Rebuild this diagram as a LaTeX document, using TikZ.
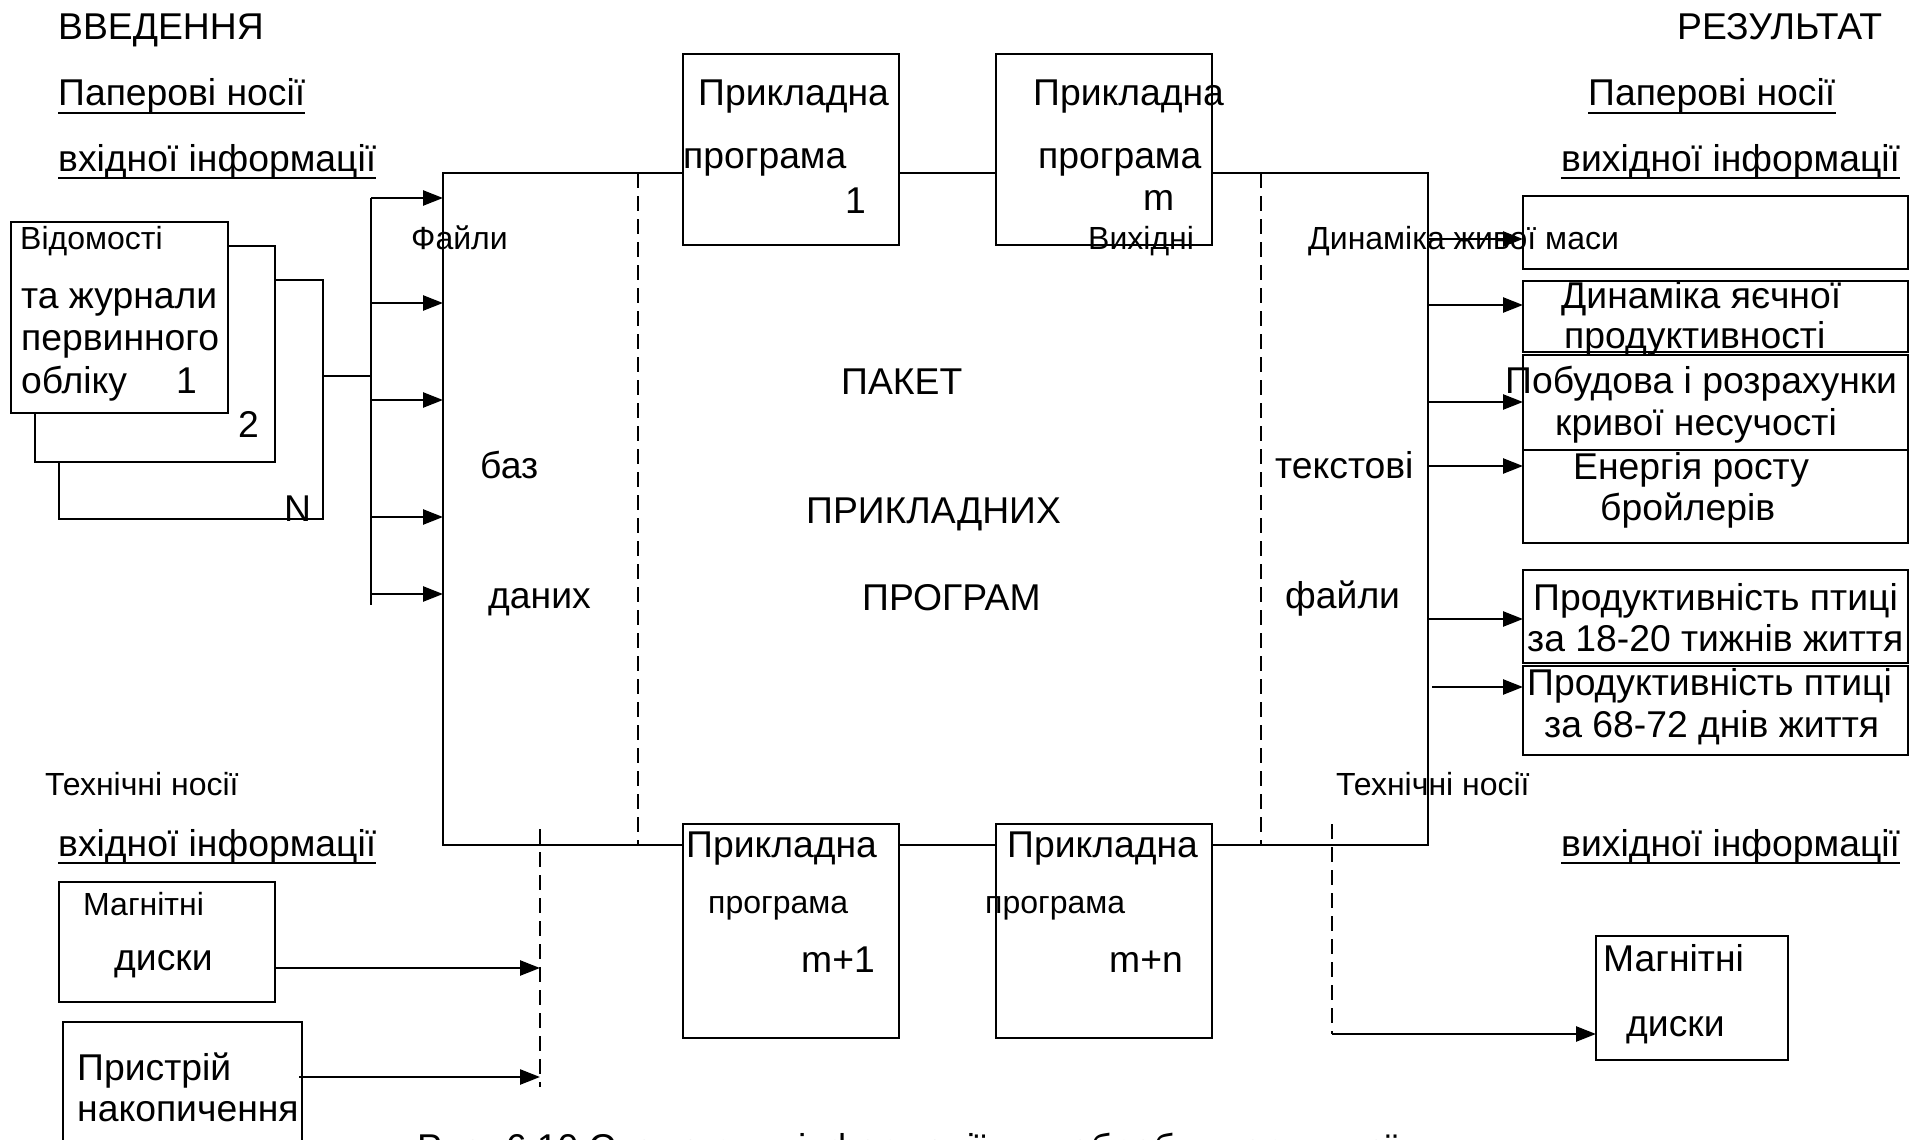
\documentclass[tikz,border=0pt]{standalone}
\usepackage{fontspec}
\setmainfont{Liberation Sans}
\usetikzlibrary{arrows.meta}
\begin{document}
\begin{tikzpicture}[x=1pt,y=-1pt,
  ln/.style={line width=2.5pt},
  boxn/.style={draw,line width=2.5pt,fill=white,inner sep=0pt,outer sep=0pt},
  arr/.style={line width=2.5pt,-{Triangle[length=20pt,width=15pt]}},
  dsh/.style={line width=2.2pt,dash pattern=on 15pt off 8pt},
  big/.style={font=\fontsize{37.3}{42}\selectfont,inner sep=0pt,anchor=base west},
  sml/.style={font=\fontsize{32}{36}\selectfont,inner sep=0pt,anchor=base west},
  uln/.style={line width=2.7pt}]
\useasboundingbox (0,0) rectangle (1923,1140);
\clip (0,0) rectangle (1923,1140);
\fill[white] (0,0) rectangle (1923,1140);

% main box
\node[boxn,minimum width=985pt,minimum height=672pt] (main) at (935.5,509) {};
\coordinate (dl) at (638,0);
\coordinate (dr) at (1261,0);
\draw[dsh] (main.north -| dl) -- (main.south -| dl);
\draw[dsh] (main.north -| dr) -- (main.south -| dr);

% program boxes
\node[boxn,minimum width=216pt,minimum height=191pt] (p1) at (791,149.5) {};
\node[boxn,minimum width=216pt,minimum height=191pt] (pm) at (1104,149.5) {};
\node[boxn,minimum width=216pt,minimum height=214pt] (pm1) at (791,931) {};
\node[boxn,minimum width=216pt,minimum height=214pt] (pmn) at (1104,931) {};

% stacked documents
\node[boxn,minimum width=264pt,minimum height=239pt] (b3) at (191,399.5) {};
\node[boxn,minimum width=240pt,minimum height=216pt] (b2) at (155,354) {};
\node[boxn,minimum width=217pt,minimum height=191pt] (b1) at (119.5,317.5) {};

% bus
\coordinate (busj) at (371,376);
\coordinate (bus1) at (371,198);
\coordinate (bus2) at (371,303);
\coordinate (bus3) at (371,400);
\coordinate (bus4) at (371,517);
\coordinate (bus5) at (371,594);
\coordinate (busb) at (371,605);
\draw[ln] (b3.east |- busj) -- (busj);
\draw[ln] (bus1) -- (busb);
\foreach \c in {bus1,bus2,bus3,bus4,bus5} \draw[arr] (\c) -- (main.west |- \c);

% output boxes
\node[boxn,minimum width=385pt,minimum height=73pt] (oA) at (1715.5,232.5) {};
\node[boxn,minimum width=385pt,minimum height=71pt] (oB) at (1715.5,316.5) {};
\node[boxn,minimum width=385pt,minimum height=95pt] (oC) at (1715.5,402.5) {};
\node[boxn,minimum width=385pt,minimum height=93pt] (oD) at (1715.5,496.5) {};
\node[boxn,minimum width=385pt,minimum height=93pt] (oE) at (1715.5,616.5) {};
\node[boxn,minimum width=385pt,minimum height=89pt] (oF) at (1715.5,710.5) {};
\coordinate (yA) at (0,239);
\coordinate (yB) at (0,305);
\coordinate (yC) at (0,402);
\coordinate (yD) at (0,466);
\coordinate (yE) at (0,619);
\coordinate (yF) at (1432,687);
\draw[arr] (main.east |- yA) -- (oA.west |- yA);
\draw[arr] (main.east |- yB) -- (oB.west |- yB);
\draw[arr] (main.east |- yC) -- (oC.west |- yC);
\draw[arr] (main.east |- yD) -- (oD.west |- yD);
\draw[arr] (main.east |- yE) -- (oE.west |- yE);
\draw[arr] (yF) -- (oF.west |- yF);

% technical carriers
\node[boxn,minimum width=216pt,minimum height=120pt] (md1) at (167,942) {};
\node[boxn,minimum width=239pt,minimum height=138pt] (pn) at (182.5,1091) {};
\node[boxn,minimum width=192pt,minimum height=124pt] (md2) at (1692,998) {};
\coordinate (dA) at (540,829);
\coordinate (dB) at (540,1087);
\coordinate (t1) at (540,968);
\coordinate (t2) at (540,1077);
\draw[dsh] (dA) -- (dB);
\draw[arr] (md1.east |- t1) -- (t1);
\draw[arr] ([xshift=-3pt]pn.east |- t2) -- (t2);
\coordinate (dC) at (1332,824);
\coordinate (dD) at (1332,1034);
\draw[dsh] (dC) -- (dD);
\draw[arr] (dD) -- (md2.west |- dD);

% headings
\node[big] (h1) at (58,40) {ВВЕДЕННЯ};
\node[big] (h2) at (58,106) {Паперові носії};
\node[big] (h3) at (58,171) {вхідної інформації};
\node[big] (h4) at (1677,40) {РЕЗУЛЬТАТ};
\node[big] (h5) at (1588,106) {Паперові носії};
\node[big] (h6) at (1561,171) {вихідної інформації};
\node[sml] (h7) at (45,795) {Технічні носії};
\node[big] (h8) at (58,856) {вхідної інформації};
\node[sml] (h9) at (1336,795) {Технічні носії};
\node[big] (h10) at (1561,856) {вихідної інформації};
\foreach \n in {h2,h3,h5,h6,h8,h10}
  \draw[uln] ([yshift=-7pt]\n.base west) -- ([yshift=-7pt]\n.base east);

% document texts
\node[sml] (d1) at (20,249) {Відомості};
\node[big] (d2) at (21,308) {та журнали};
\node[big] (d3) at (21,350) {первинного};
\node[big] (d4) at (21,393) {обліку};
\node[big] (d5) at (176,393) {1};
\node[big] (d6) at (238,437) {2};
\node[big] (d7) at (284,521) {N};

% main box texts
\node[sml] (m1) at (411,249) {Файли};
\node[big] (m2) at (480,478) {баз};
\node[big] (m3) at (488,608) {даних};
\node[big] (m4) at (841,394) {ПАКЕТ};
\node[big] (m5) at (806,523) {ПРИКЛАДНИХ};
\node[big] (m6) at (862,610) {ПРОГРАМ};
\node[sml] (m7) at (1088,249) {Вихідні};
\node[big] (m8) at (1275,478) {текстові};
\node[big] (m9) at (1285,608) {файли};
\node[sml] (m10) at (1308,249) {Динаміка живої маси};

% program texts
\node[big] at (698,105) {Прикладна};
\node[big] at (683,168) {програма};
\node[big] at (845,213) {1};
\node[big] at (1033,105) {Прикладна};
\node[big] at (1038,168) {програма};
\node[big] at (1143,210) {m};
\node[big] at (686,857) {Прикладна};
\node[sml] at (708,913) {програма};
\node[big] at (801,972) {m+1};
\node[big] at (1007,857) {Прикладна};
\node[sml] at (985,913) {програма};
\node[big] at (1109,972) {m+n};

% output texts
\node[big] at (1561,308) {Динаміка яєчної};
\node[big] at (1564,348) {продуктивності};
\node[big] at (1505,393) {Побудова і розрахунки};
\node[big] at (1555,435) {кривої несучості};
\node[big] at (1573,479) {Енергія росту};
\node[big] at (1600,520) {бройлерів};
\node[big] at (1533,610) {Продуктивність птиці};
\node[big] at (1527,651) {за 18-20 тижнів життя};
\node[big] at (1527,695) {Продуктивність птиці};
\node[big] at (1544,737) {за 68-72 днів життя};

% technical carrier texts
\node[sml] at (83,915) {Магнітні};
\node[big] at (114,970) {диски};
\node[big] at (77,1080) {Пристрій};
\node[big] at (77,1121) {накопичення};
\node[big] at (1603,971) {Магнітні};
\node[big] at (1626,1036) {диски};

% caption (cut off at the bottom)
\node[big] (cap) at (417,1160) {Рис. 6.10 Схема руху інформації для обробки первинної};
\end{tikzpicture}
\end{document}
